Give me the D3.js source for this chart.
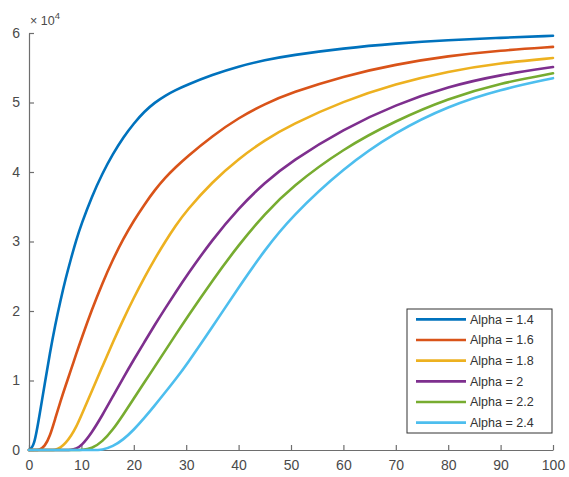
<!DOCTYPE html>
<html>
<head>
<meta charset="utf-8">
<script src="https://cdn.jsdelivr.net/npm/d3@7"></script>
<style>
  html, body { margin: 0; padding: 0; background: #fff; }
  svg { display: block; }
  text { font-family: "Liberation Sans", Arial, sans-serif; }
</style>
</head>
<body>
<svg id="chart" width="569" height="477"></svg>
<script>
// x positions of samples
const xValues = [0,1,2,3,4,5,6,7,8,9,10,12,14,16,18,20,22,24,26,28,30,35,40,45,50,60,70,80,90,100];
// series values in units of 10^4
const alpha14 = [0,0.05,0.5,0.95,1.4,1.8,2.15,2.47,2.75,3.02,3.25,3.65,3.98,4.26,4.50,4.70,4.87,5.00,5.10,5.18,5.25,5.40,5.52,5.61,5.68,5.78,5.85,5.9,5.93,5.96];
const alpha16 = [0,0,0,0.05,0.2,0.45,0.7,0.93,1.15,1.38,1.6,2.02,2.4,2.74,3.04,3.3,3.53,3.74,3.92,4.07,4.21,4.52,4.78,4.98,5.14,5.38,5.55,5.67,5.75,5.8];
const alpha18 = [0,0,0,0,0,0,0.03,0.1,0.2,0.33,0.5,0.85,1.2,1.55,1.88,2.19,2.48,2.75,3.0,3.23,3.44,3.86,4.19,4.46,4.68,5.02,5.27,5.45,5.57,5.64];
const alpha20 = [0,0,0,0,0,0,0,0,0,0.02,0.06,0.25,0.5,0.77,1.04,1.3,1.55,1.8,2.04,2.27,2.5,3.03,3.48,3.85,4.15,4.62,4.97,5.23,5.4,5.51];
const alpha22 = [0,0,0,0,0,0,0,0,0,0,0,0.02,0.12,0.29,0.51,0.74,0.97,1.2,1.43,1.66,1.89,2.44,2.95,3.4,3.78,4.34,4.74,5.06,5.28,5.42];
const alpha24 = [0,0,0,0,0,0,0,0,0,0,0,0,0,0.05,0.15,0.29,0.46,0.64,0.83,1.02,1.22,1.77,2.34,2.88,3.35,4.06,4.58,4.95,5.19,5.35];
const seriesNames = ["Alpha = 1.4","Alpha = 1.6","Alpha = 1.8","Alpha = 2","Alpha = 2.2","Alpha = 2.4"];
const seriesColors = ["#0072BD","#D95319","#EDB120","#7E2F8E","#77AC30","#4DBEEE"];
const xTicks = [0,10,20,30,40,50,60,70,80,90,100];
const yTicks = [0,1,2,3,4,5,6];
const exponentLabel = "4";

const allSeries = [alpha14, alpha16, alpha18, alpha20, alpha22, alpha24];

const svg = d3.select("#chart");
const plotLeft = 29, plotRight = 553, plotTop = 33, plotBottom = 450;
const x = d3.scaleLinear().domain([0,100]).range([plotLeft, plotRight]);
const y = d3.scaleLinear().domain([0,6]).range([plotBottom, plotTop]);

const axisColor = "#6e6e6e";
const textColor = "#4a4a4a";

// axes (MATLAB style: ticks inside, only left and bottom)
const xAxis = svg.append("g").attr("transform", `translate(0,${plotBottom})`)
  .call(d3.axisBottom(x).tickValues(xTicks).tickFormat(d3.format("d")).tickSize(-5).tickSizeOuter(0).tickPadding(9));
const yAxis = svg.append("g").attr("transform", `translate(${plotLeft},0)`)
  .call(d3.axisLeft(y).tickValues(yTicks).tickFormat(d3.format("d")).tickSize(-5).tickSizeOuter(0).tickPadding(9));
[xAxis, yAxis].forEach(g => {
  g.select(".domain").attr("stroke", axisColor).attr("stroke-width", 1.2);
  g.selectAll(".tick line").attr("stroke", axisColor).attr("stroke-width", 1.2);
  g.selectAll(".tick text").attr("fill", textColor).style("font-size", "14px");
});
xAxis.selectAll(".tick text").attr("dy", "0.8em");

// exponent label
const expT = svg.append("text").attr("x", plotLeft + 1).attr("y", 25)
  .attr("fill", textColor).style("font-size", "12.5px");
expT.append("tspan").text("\u00D7 10");
expT.append("tspan").attr("dy", -6).style("font-size", "9.5px").text(exponentLabel);

// lines
const line = d3.line().x((d,i) => x(xValues[i])).y(d => y(d)).curve(d3.curveBasis);
allSeries.forEach((s, k) => {
  svg.append("path").datum(s).attr("d", line)
    .attr("fill", "none").attr("stroke", seriesColors[k])
    .attr("stroke-width", 2.6).attr("stroke-linejoin", "round").attr("stroke-linecap", "round");
});

// legend
const lg = svg.append("g");
const lx = 407, ly = 309, lw = 145, lh = 124;
lg.append("rect").attr("x", lx).attr("y", ly).attr("width", lw).attr("height", lh)
  .attr("fill", "#fff").attr("stroke", "#333").attr("stroke-width", 1);
const rowH = lh / seriesNames.length;
seriesNames.forEach((n, k) => {
  const cy = ly + rowH * (k + 0.5);
  lg.append("line").attr("x1", lx + 9).attr("x2", lx + 59).attr("y1", cy).attr("y2", cy)
    .attr("stroke", seriesColors[k]).attr("stroke-width", 2.6);
  lg.append("text").attr("x", lx + 63).attr("y", cy).attr("dy", "0.35em")
    .attr("fill", "#333").style("font-size", "12.5px").text(n);
});
</script>
</body>
</html>
